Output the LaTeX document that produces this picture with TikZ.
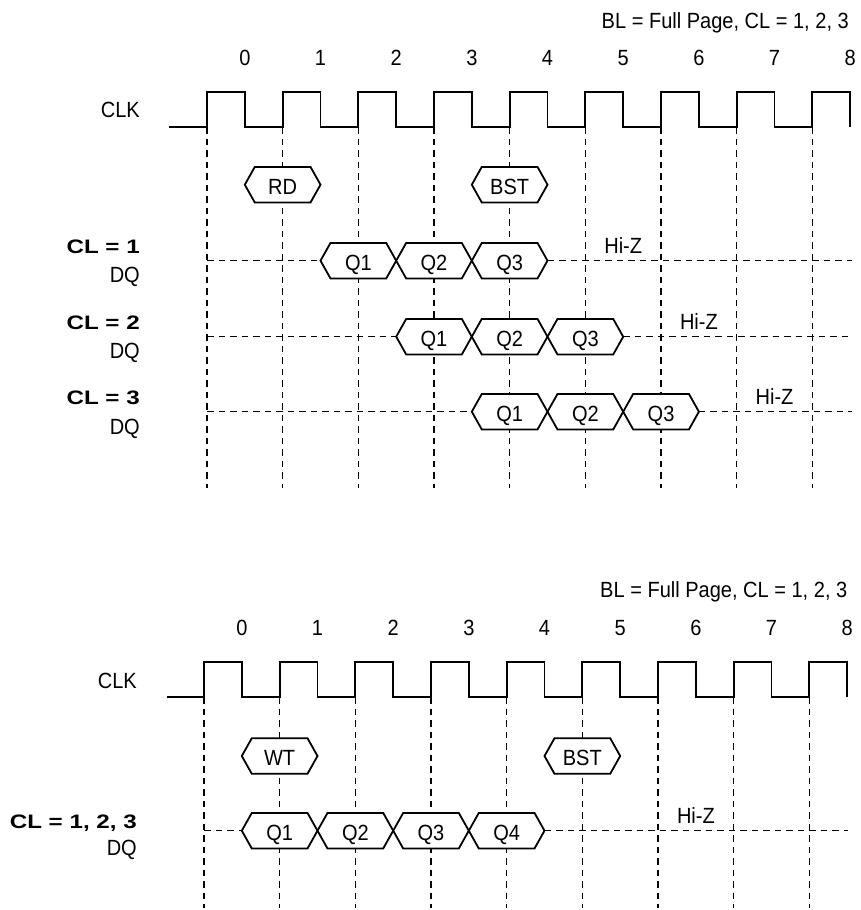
\documentclass[tikz,border=0pt]{standalone}
\usepackage{fontspec}
\setmainfont{Liberation Sans}[FakeStretch=0.91]
\newfontfamily\boldlab{Liberation Sans}[FakeStretch=1.24]
\newcommand\hexcell[5]{% name, xl, xr, yc, text
  \draw[hexs] (#2,#4) -- (#2+10,#4-17.8) -- (#3-10,#4-17.8) -- (#3,#4) -- (#3-10,#4+17.8) -- (#2+10,#4+17.8) -- cycle;
  \node[lab, anchor=base] (#1) at ({(#2+#3)/2},#4+9.8) {#5};}
\begin{document}
\begin{tikzpicture}[x=1pt,y=-1pt,
  clk/.style={line width=1.8pt, line join=miter},
  grid/.style={line width=1.3pt, dash pattern=on 6.5pt off 5pt},
  hexs/.style={line width=1.8pt, fill=white, line join=miter},
  lab/.style={font=\fontsize{22}{26}\selectfont, inner sep=0pt},
  blab/.style={font=\boldlab\bfseries\fontsize{19.5}{23}\selectfont, inner sep=0pt}]
\useasboundingbox (0,0) rectangle (860,910);
% ================= TOP DIAGRAM =================
\def\xa{207}\def\pp{75.67}
% vertical grid
\foreach \k in {0,...,8} \draw[grid] ({\xa+\k*\pp},127.3) -- ({\xa+\k*\pp},488);
% clock
\draw[clk] (169,127.3) \foreach \k in {0,...,8} { -- ({\xa+\k*\pp},127.3) -- ({\xa+\k*\pp},91.7) -- ({\xa+(\k+0.5)*\pp},91.7) -- ({\xa+(\k+0.5)*\pp},127.3) };
% horizontal Hi-Z lines
\draw[grid] (207,260.7) -- (320.5,260.7);
\draw[grid] (547.5,260.7) -- (851.7,260.7);
\draw[grid] (207,336.7) -- (396.2,336.7);
\draw[grid] (623.2,336.7) -- (851.7,336.7);
\draw[grid] (207,411.7) -- (471.8,411.7);
\draw[grid] (698.9,411.7) -- (851.7,411.7);
% command row
\hexcell{rd}{244.8}{320.5}{184.7}{RD}
\hexcell{bst1}{471.8}{547.5}{184.7}{BST}
% CL = 1
\hexcell{a1}{320.5}{396.2}{260.7}{Q1}
\hexcell{a2}{396.2}{471.8}{260.7}{Q2}
\hexcell{a3}{471.8}{547.5}{260.7}{Q3}
% CL = 2
\hexcell{b1}{396.2}{471.8}{336.7}{Q1}
\hexcell{b2}{471.8}{547.5}{336.7}{Q2}
\hexcell{b3}{547.5}{623.2}{336.7}{Q3}
% CL = 3
\hexcell{c1}{471.8}{547.5}{411.7}{Q1}
\hexcell{c2}{547.5}{623.2}{411.7}{Q2}
\hexcell{c3}{623.2}{698.9}{411.7}{Q3}
% texts
\node[lab, anchor=base east] (hdr1) at (849,28) {BL = Full Page, CL = 1, 2, 3};
\foreach \k in {0,...,8} \node[lab, anchor=base] (t\k) at ({\xa+(\k+0.5)*\pp},65) {\k};
\node[lab, anchor=base east] (clk1) at (140,117.3) {CLK};
\node[blab, anchor=base east] (cl1) at (140,253.3) {CL = 1};
\node[lab, anchor=base east] (dq1) at (140,282.5) {DQ};
\node[blab, anchor=base east] (cl2) at (140,329.3) {CL = 2};
\node[lab, anchor=base east] (dq2) at (140,358.8) {DQ};
\node[blab, anchor=base east] (cl3) at (140,404.3) {CL = 3};
\node[lab, anchor=base east] (dq3) at (140,434) {DQ};
\node[lab, anchor=base] (hz1) at (623.2,253.3) {Hi-Z};
\node[lab, anchor=base] (hz2) at (698.9,329.8) {Hi-Z};
\node[lab, anchor=base] (hz3) at (774.5,404.5) {Hi-Z};
% ================= BOTTOM DIAGRAM =================
\def\xb{204}
\foreach \k in {0,...,8} \draw[grid] ({\xb+\k*\pp},697) -- ({\xb+\k*\pp},908);
\draw[clk] (166.7,697) \foreach \k in {0,...,8} { -- ({\xb+\k*\pp},697) -- ({\xb+\k*\pp},662) -- ({\xb+(\k+0.5)*\pp},662) -- ({\xb+(\k+0.5)*\pp},697) };
\draw[grid] (204,830.7) -- (241.8,830.7);
\draw[grid] (544.5,830.7) -- (848,830.7);
\hexcell{wt}{241.8}{317.5}{756}{WT}
\hexcell{bst2}{544.5}{620.2}{756}{BST}
\hexcell{d1}{241.8}{317.5}{830.7}{Q1}
\hexcell{d2}{317.5}{393.2}{830.7}{Q2}
\hexcell{d3}{393.2}{468.8}{830.7}{Q3}
\hexcell{d4}{468.8}{544.5}{830.7}{Q4}
\node[lab, anchor=base east] (hdr2) at (847.5,597.3) {BL = Full Page, CL = 1, 2, 3};
\foreach \k in {0,...,8} \node[lab, anchor=base] (u\k) at ({\xb+(\k+0.5)*\pp},635) {\k};
\node[lab, anchor=base east] (clk2) at (137,688.3) {CLK};
\node[blab, anchor=base east] (cl4) at (137,828.5) {CL = 1, 2, 3};
\node[lab, anchor=base east] (dq4) at (137,855) {DQ};
\node[lab, anchor=base] (hz4) at (695.9,823.3) {Hi-Z};
\end{tikzpicture}
\end{document}
